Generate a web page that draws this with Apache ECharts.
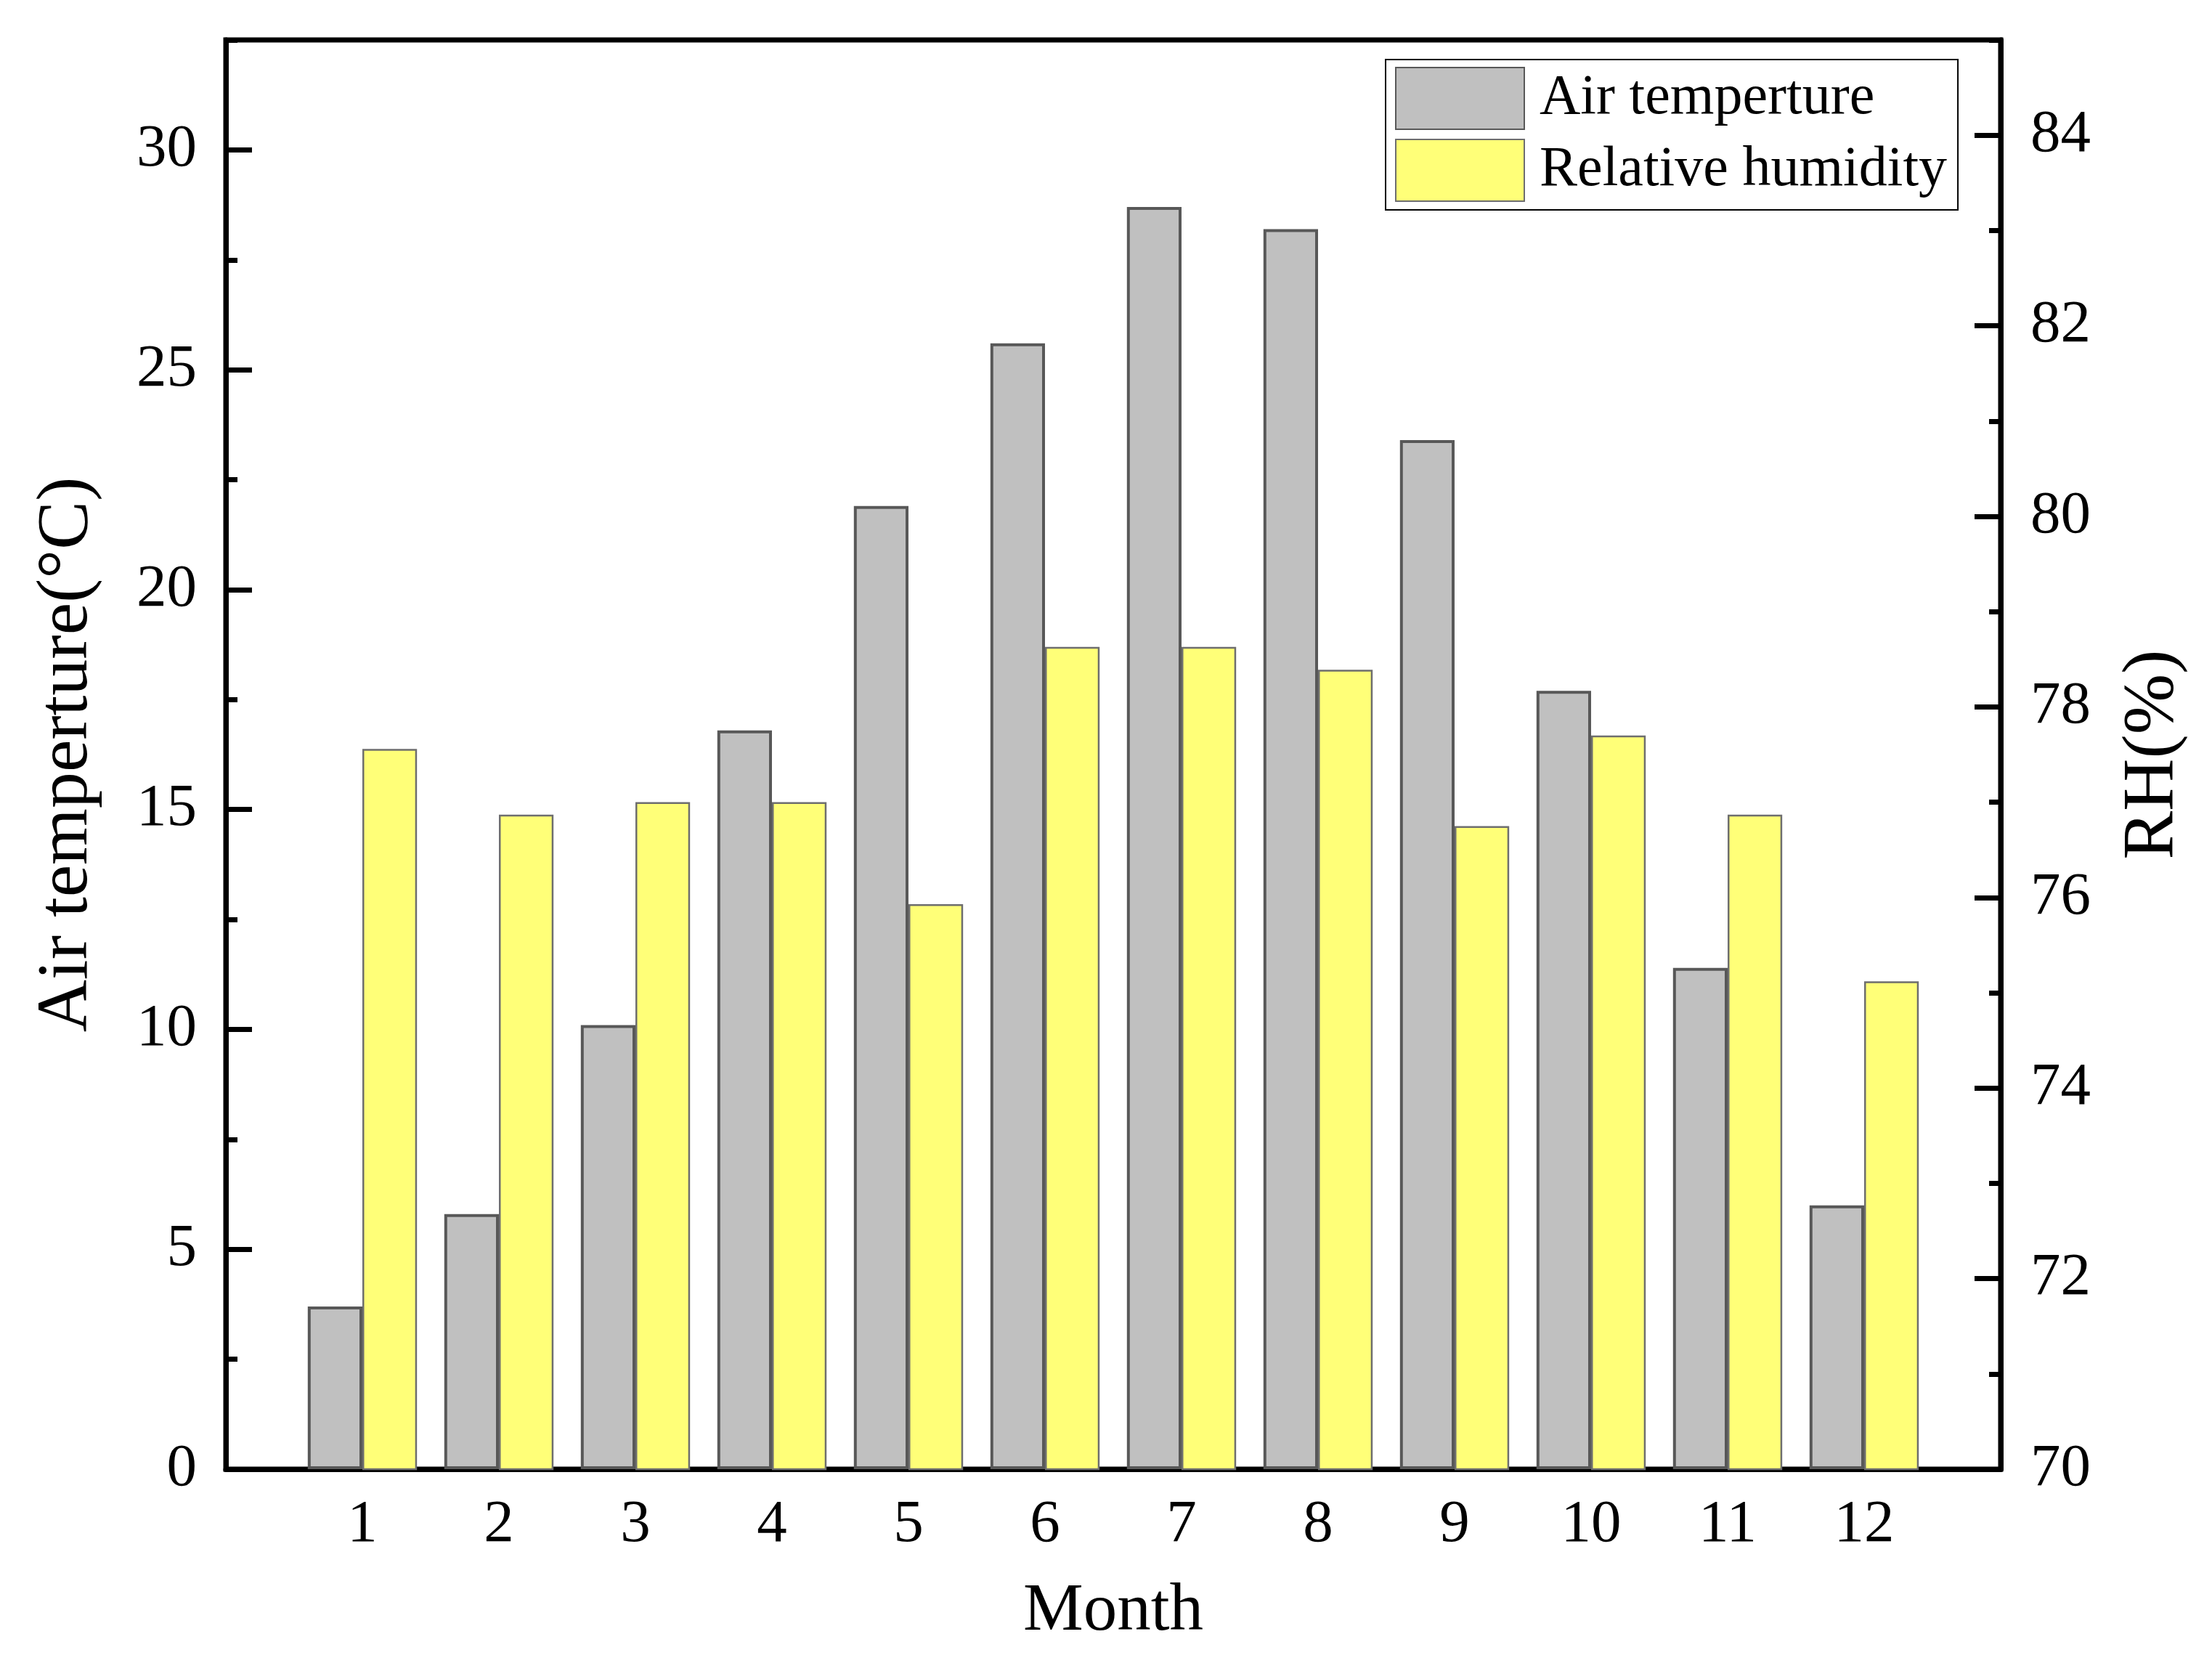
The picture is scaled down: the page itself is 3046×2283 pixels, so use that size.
<!DOCTYPE html>
<html>
<head>
<meta charset="utf-8">
<script src="https://cdn.jsdelivr.net/npm/echarts@6/dist/echarts.min.js"></script>
<style>html,body{margin:0;padding:0;background:#fff}#c{width:3046px;height:2283px}</style>
</head>
<body>
<div id="c"></div>
<script>
const months = ['1','2','3','4','5','6','7','8','9','10','11','12'];
const airTemp = [3.7, 5.8, 10.1, 16.8, 21.9, 25.6, 28.7, 28.2, 23.4, 17.7, 11.4, 6.0];
const relHumidity = [77.56, 76.87, 77.0, 77.0, 75.93, 78.63, 78.63, 78.39, 76.75, 77.7, 76.87, 75.12];
const leftTicks = {min: 0, max: 32.5, major: 5, minor: 2.5};
const rightTicks = {min: 70, max: 85, major: 2, minor: 1};

const FONT = 'Liberation Serif';
const axisCats = [''].concat(months, ['']);
const pad = arr => ['-'].concat(arr, ['-']);

const chart = echarts.init(document.getElementById('c'));
const baseY = (pos, t, interval, labels, tickLen, margin) => ({
  type: 'value', position: pos, min: t.min, max: t.max, interval: interval,
  axisLine: {show: labels, lineStyle: {color: '#000', width: 7}},
  axisTick: {show: true, inside: true, length: tickLen, lineStyle: {color: '#000', width: 7}},
  axisLabel: labels ? {show: true, showMaxLabel: false, fontFamily: FONT, fontSize: 83, color: '#000', margin: margin} : {show: false},
  splitLine: {show: false}
});

const y0 = Object.assign(baseY('left', leftTicks, leftTicks.major, true, 36, 40), {
  name: 'Air temperture(°C)', nameLocation: 'middle', nameRotate: 90, nameGap: 168,
  nameTextStyle: {fontFamily: FONT, fontSize: 100, color: '#000'}
});
const y1 = Object.assign(baseY('right', rightTicks, rightTicks.major, true, 36, 41), {
  name: 'RH(%)', nameLocation: 'middle', nameRotate: 90, nameGap: 160,
  nameTextStyle: {fontFamily: FONT, fontSize: 100, color: '#000'}
});
const y2 = baseY('left', leftTicks, leftTicks.minor, false, 16, 0);
const y3 = baseY('right', rightTicks, rightTicks.minor, false, 16, 0);

chart.setOption({
  animation: false,
  backgroundColor: '#fff',
  grid: {left: 311, right: 291, top: 55, bottom: 260, show: true, borderColor: '#000', borderWidth: 7, containLabel: false},
  legend: {
    orient: 'vertical', left: 1908, top: 82,
    itemWidth: 177, itemHeight: 85, itemGap: 12,
    padding: [10, 15, 11, 13],
    borderColor: '#000', borderWidth: 2,
    icon: 'rect',
    textStyle: {fontFamily: FONT, fontSize: 78, color: '#000', padding: [0, 0, 0, 16]},
    data: ['Air temperture', 'Relative humidity']
  },
  xAxis: {
    type: 'category', data: axisCats, boundaryGap: false,
    name: 'Month', nameLocation: 'middle', nameGap: 150,
    nameTextStyle: {fontFamily: FONT, fontSize: 93, color: '#000'},
    axisLine: {lineStyle: {color: '#000', width: 7}},
    axisTick: {show: false},
    axisLabel: {interval: 0, fontFamily: FONT, fontSize: 83, color: '#000', margin: 36},
    splitLine: {show: false}
  },
  yAxis: [y0, y1, y2, y3],
  series: [
    {
      name: 'Air temperture', type: 'bar', yAxisIndex: 0, data: pad(airTemp),
      barWidth: '40%', barGap: '0%',
      itemStyle: {color: '#C0C0C0', borderColor: '#585858', borderWidth: 4}
    },
    {
      name: 'Relative humidity', type: 'bar', yAxisIndex: 1, data: pad(relHumidity),
      barWidth: '40%', barGap: '0%',
      itemStyle: {color: '#FFFF78', borderColor: '#6E6E6E', borderWidth: 2.5}
    }
  ]
});
</script>
</body>
</html>
